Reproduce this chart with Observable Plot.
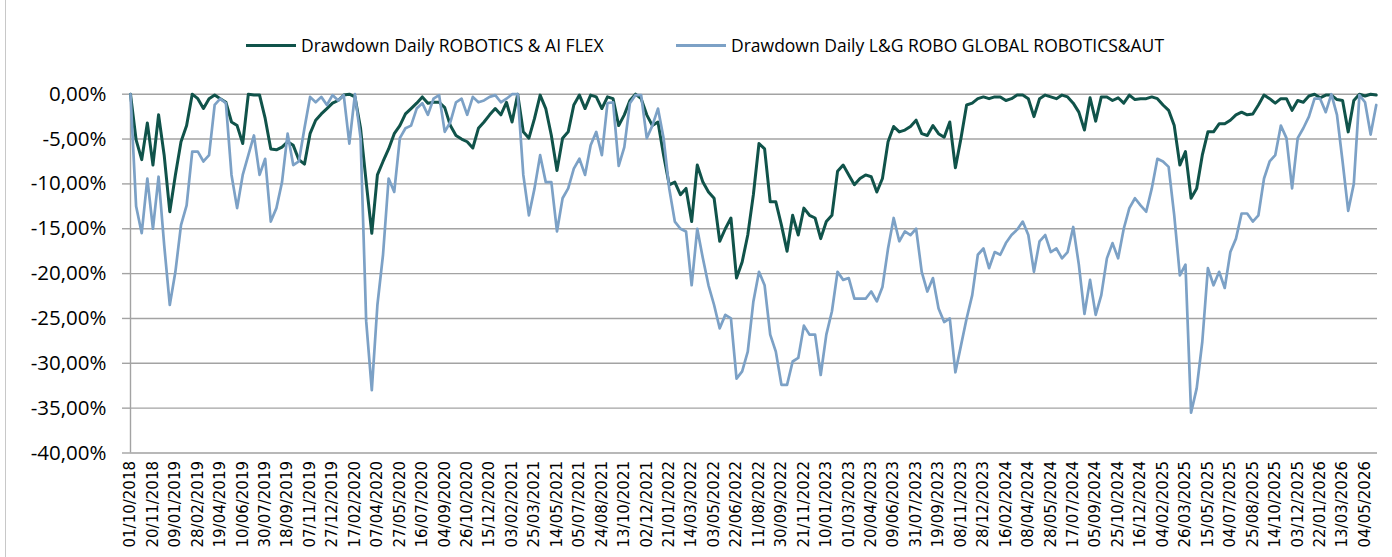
<!DOCTYPE html>
<html><head><meta charset="utf-8">
<script src="https://cdn.jsdelivr.net/npm/d3@7"></script>
<script src="https://cdn.jsdelivr.net/npm/@observablehq/plot@0.6"></script>
<style>
body{margin:0;background:#fff;}
#wrap{position:relative;width:1392px;height:557px;overflow:hidden;font-family:"Open Sans",sans-serif;background:#fff;}
#frame{position:absolute;left:5px;top:0;width:1px;height:557px;background:#c8c8c8;}
#legend{height:70px;position:relative;}
.item{position:absolute;top:34px;height:22px;display:flex;align-items:center;font-size:17.5px;color:#000;white-space:nowrap;}
.sw{width:50px;height:3px;margin-right:5px;}
#chart svg{display:block;}
</style></head><body>
<div id="wrap"><div id="frame"></div><div id="legend"></div><div id="chart"></div></div>
<script>
// Series names and colours
const seriesNames = ["Drawdown Daily ROBOTICS & AI FLEX", "Drawdown Daily L&G ROBO GLOBAL ROBOTICS&AUT"];
const seriesColors = ["#10534a", "#7ca1c6"];

// Category-axis tick labels (every 36 business days)
const tickLabels = ["01/10/2018","20/11/2018","09/01/2019","28/02/2019","19/04/2019","10/06/2019","30/07/2019","18/09/2019","07/11/2019","27/12/2019","17/02/2020","07/04/2020","27/05/2020","16/07/2020","04/09/2020","26/10/2020","15/12/2020","03/02/2021","25/03/2021","14/05/2021","05/07/2021","24/08/2021","13/10/2021","02/12/2021","21/01/2022","14/03/2022","03/05/2022","22/06/2022","11/08/2022","30/09/2022","21/11/2022","10/01/2023","01/03/2023","20/04/2023","09/06/2023","31/07/2023","19/09/2023","08/11/2023","28/12/2023","16/02/2024","08/04/2024","28/05/2024","17/07/2024","05/09/2024","25/10/2024","16/12/2024","04/02/2025","26/03/2025","15/05/2025","04/07/2025","25/08/2025","14/10/2025","03/12/2025","22/01/2026","13/03/2026","04/05/2026"];
const labelStep = 36;   // business days between labels
const sampleStep = 9;   // business days between read samples
const totalDays = 2000;

// Drawdown values (%), one every 9 business days
const flex = [0,-5.1,-7.3,-3.2,-7.9,-2.3,-6.8,-13.1,-9.0,-5.3,-3.5,0,-0.5,-1.6,-0.5,-0.1,-0.5,-0.9,-3.1,-3.5,
-5.5,0,-0.1,-0.1,-2.7,-6.1,-6.2,-5.9,-5.3,-5.7,-7.3,-7.8,-4.4,-2.9,-2.2,-1.6,-1.0,-0.7,-0.1,0,
-0.3,-3.8,-9.8,-15.5,-9.0,-7.5,-6.1,-4.4,-3.5,-2.2,-1.6,-1.0,-0.3,-1.0,-0.9,-0.9,-1.5,-3.5,-4.6,-5.0,
-5.3,-6.0,-3.8,-3.1,-2.3,-1.6,-2.3,-0.9,-3.1,0,-4.2,-4.9,-2.7,-0.1,-1.6,-4.6,-8.5,-4.9,-4.2,-1.2,
-0.1,-1.6,-0.1,-0.3,-1.6,-0.3,-0.5,-3.5,-2.3,-0.7,0,-0.5,-2.3,-3.5,-3.1,-6.8,-10.1,-9.8,-11.2,-10.5,
-14.2,-7.9,-9.8,-10.9,-11.6,-16.4,-15.0,-13.8,-20.5,-18.7,-15.7,-11.2,-5.5,-6.1,-12.0,-12.0,-14.6,-17.5,-13.5,-15.7,
-12.7,-13.5,-13.8,-16.1,-14.2,-13.5,-8.6,-7.9,-9.0,-10.1,-9.4,-9.0,-9.2,-10.9,-9.4,-5.3,-3.6,-4.2,-4.0,-3.6,
-2.9,-4.4,-4.6,-3.5,-4.4,-4.8,-3.1,-8.2,-4.9,-1.2,-1.0,-0.5,-0.3,-0.5,-0.3,-0.3,-0.7,-0.5,-0.1,-0.1,
-0.5,-2.5,-0.5,-0.1,-0.3,-0.5,-0.1,-0.3,-1.0,-2.0,-4.0,-0.4,-3.0,-0.3,-0.3,-0.7,-0.4,-1.0,-0.1,-0.6,
-0.5,-0.5,-0.3,-0.5,-1.2,-1.8,-3.5,-7.9,-6.4,-11.6,-10.5,-6.8,-4.2,-4.2,-3.3,-3.3,-2.9,-2.3,-2.0,-2.3,
-2.2,-1.2,-0.1,-0.5,-1.0,-0.5,-0.5,-1.8,-0.7,-0.9,-0.2,0,-0.4,-0.1,-0.1,-0.6,-0.7,-4.2,-0.7,0,
-0.2,0,-0.1];
const lg = [0,-12.5,-15.5,-9.4,-15.0,-9.2,-16.8,-23.5,-19.8,-14.6,-12.4,-6.4,-6.4,-7.5,-6.8,-1.2,-0.5,-1.0,-9.0,-12.7,
-9.0,-6.8,-4.6,-9.0,-7.2,-14.2,-12.7,-9.8,-4.4,-7.9,-7.5,-3.8,-0.3,-0.9,-0.3,-1.2,-0.1,-0.7,-0.1,-5.5,
0,-4.9,-25.3,-33.0,-23.5,-17.9,-9.4,-10.9,-4.9,-3.8,-3.5,-1.6,-1.0,-2.3,-0.5,-0.1,-4.2,-3.1,-0.9,-0.5,
-2.3,-0.3,-0.9,-0.7,-0.3,-0.1,-0.9,-0.5,0,0,-9.0,-13.5,-10.5,-6.8,-9.8,-9.8,-15.3,-11.6,-10.5,-8.3,
-7.2,-9.0,-5.7,-4.2,-6.8,-1.0,-0.9,-8.0,-5.9,-1.0,-0.1,-0.1,-4.9,-3.5,-1.6,-4.9,-10.5,-14.2,-15.0,-15.3,
-21.3,-15.0,-18.3,-21.3,-23.5,-26.1,-24.6,-25.0,-31.7,-30.9,-28.7,-23.1,-19.8,-21.3,-26.8,-28.7,-32.4,-32.4,-29.8,-29.4,
-25.8,-26.8,-26.8,-31.3,-26.8,-24.2,-19.8,-20.7,-20.5,-22.8,-22.8,-22.8,-22.0,-23.1,-21.5,-17.2,-13.8,-16.4,-15.3,-15.7,
-15.0,-19.8,-22.0,-20.5,-23.9,-25.4,-25.0,-31.0,-28.0,-25.0,-22.4,-17.9,-17.2,-19.4,-17.6,-17.9,-16.6,-15.7,-15.1,-14.2,
-15.7,-19.8,-16.4,-15.7,-17.6,-17.2,-18.3,-17.6,-14.8,-19.0,-24.5,-20.7,-24.6,-22.4,-18.3,-16.6,-18.3,-15.0,-12.7,-11.6,
-12.4,-13.1,-10.5,-7.2,-7.5,-8.1,-13.5,-20.2,-19.0,-35.5,-32.8,-27.6,-19.4,-21.3,-19.8,-21.6,-17.6,-16.1,-13.3,-13.3,
-14.2,-13.5,-9.4,-7.5,-6.8,-3.5,-4.9,-10.5,-4.9,-3.8,-2.5,-0.5,-0.5,-2.0,0,-2.3,-7.5,-13.0,-10.0,-0.1,
-0.9,-4.5,-1.2];

const yTicks = [0,-5,-10,-15,-20,-25,-30,-35,-40];

const fmtPct = d => (d === 0 ? "0,00" : d.toFixed(2).replace(".", ",")) + "%";
const toRows = (arr, s) => arr.map((v, k) => ({i: k * sampleStep, v, s}));
const rowsFlex = toRows(flex, seriesNames[0]);
const rowsLg = toRows(lg, seriesNames[1]);
const xTicks = tickLabels.map((_, k) => k * labelStep);

// Legend
const legend = document.getElementById("legend");
const legendLeft = [246, 676];
seriesNames.forEach((n, j) => {
  const it = document.createElement("div");
  it.className = "item";
  it.style.left = legendLeft[j] + "px";
  const sw = document.createElement("span");
  sw.className = "sw";
  sw.style.background = seriesColors[j];
  const tx = document.createElement("span");
  tx.textContent = n;
  it.appendChild(sw); it.appendChild(tx);
  legend.appendChild(it);
});

const chart = Plot.plot({
  width: 1392,
  height: 487,
  marginTop: 23.7,
  marginBottom: 104.5,
  marginLeft: 130,
  marginRight: 15,
  style: {background: "#fff", overflow: "visible"},
  x: {type: "linear", domain: [0, totalDays]},
  y: {domain: [-40, 0]},
  marks: [
    Plot.ruleY(yTicks.filter(d => d !== -40), {y: d => d, x1: 0, x2: totalDays, stroke: "#a3a3a3", strokeWidth: 1.4}),
    Plot.ruleY([-40], {stroke: "#b8b8b8", strokeWidth: 2}),
    Plot.axisY(yTicks, {tickSize: 8, tickPadding: 16, stroke: "#a3a3a3", strokeWidth: 1.4, tickFormat: fmtPct, fontSize: 20.5, fontFamily: "Open Sans", fill: "#000", label: null}),
    Plot.axisX(xTicks, {tickSize: 0, tickPadding: 8, tickRotate: -90, tickFormat: i => tickLabels[i / labelStep], fontSize: 15, fontFamily: "DejaVu Sans", fill: "#000", label: null}),
    Plot.ruleX([0], {stroke: "#a3a3a3", strokeWidth: 1.4}),
    Plot.line(rowsFlex, {x: "i", y: "v", stroke: seriesColors[0], strokeWidth: 3, strokeLinejoin: "round"}),
    Plot.line(rowsLg, {x: "i", y: "v", stroke: seriesColors[1], strokeWidth: 2.7, strokeLinejoin: "round"})
  ]
});
document.getElementById("chart").appendChild(chart);
</script>
</body></html>
